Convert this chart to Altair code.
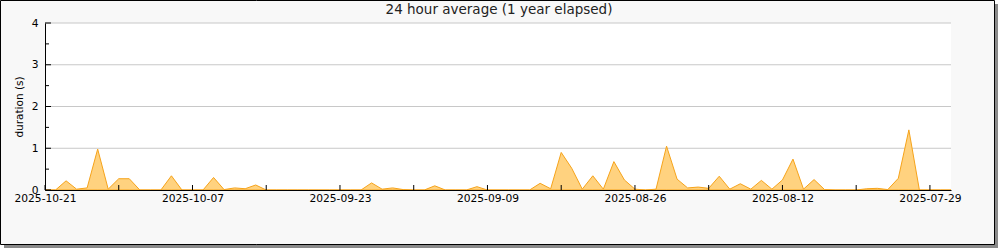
import altair as alt
import pandas as pd

TITLE = "24 hour average (1 year elapsed)"
Y_TITLE = "duration (s)"
START = "2025-10-21"  # leftmost day, days run backwards to the right

# daily averages (s), starting 2025-10-21 and going back one day per entry
values = [
    0.00, 0.00, 0.22, 0.02, 0.05, 0.98, 0.02, 0.27, 0.27, 0.00,
    0.00, 0.00, 0.34, 0.00, 0.00, 0.00, 0.30, 0.01, 0.05, 0.03,
    0.12, 0.00, 0.00, 0.00, 0.00, 0.00, 0.00, 0.00, 0.00, 0.00,
    0.00, 0.17, 0.02, 0.05, 0.01, 0.00, 0.00, 0.10, 0.00, 0.00,
    0.00, 0.08, 0.00, 0.00, 0.00, 0.00, 0.00, 0.16, 0.03, 0.90,
    0.52, 0.02, 0.34, 0.02, 0.68, 0.24, 0.02, 0.00, 0.02, 1.05,
    0.26, 0.05, 0.07, 0.04, 0.33, 0.02, 0.15, 0.02, 0.23, 0.02,
    0.24, 0.74, 0.02, 0.25, 0.01, 0.00, 0.00, 0.00, 0.03, 0.04,
    0.01, 0.28, 1.44, 0.00, 0.00, 0.00, 0.00,
]

major_ticks = ["2025-10-21", "2025-10-07", "2025-09-23", "2025-09-09",
               "2025-08-26", "2025-08-12", "2025-07-29"]
minor_ticks = ["2025-10-14", "2025-09-30", "2025-09-16", "2025-09-02",
               "2025-08-19", "2025-08-05"]
y_major = [0, 1, 2, 3, 4]
y_minor = [0.5, 1.5, 2.5, 3.5]
y_grid = [1, 2, 3, 4]

dates = pd.date_range(end=START, periods=len(values), freq="D")[::-1]
df = pd.DataFrame({"date": dates.strftime("%Y-%m-%d"), "value": values})
ticks_df = pd.DataFrame({"date": major_ticks + minor_ticks})
ymaj_df = pd.DataFrame({"value": y_major})
ymin_df = pd.DataFrame({"value": y_minor})
grid_df = pd.DataFrame({"value": y_grid})

W, H = 906, 167
FONT = "DejaVu Sans"

xscale = alt.Scale(
    type="utc",
    domain=[alt.DateTime(year=2025, month=7, date=27, utc=True),
            alt.DateTime(year=2025, month=10, date=21, utc=True)],
    reverse=True,
)
yscale = alt.Scale(domain=[0, 4], nice=False)

one = alt.Data(values=[{"a": 1}])

shadow = alt.Chart(one).mark_rect(fill="#8a8a8a").encode(
    x=alt.value(-41), x2=alt.value(953), y=alt.value(-19), y2=alt.value(225))
frame = alt.Chart(one).mark_rect(fill="#f8f8f8", stroke="black", strokeWidth=1).encode(
    x=alt.value(-44.5), x2=alt.value(949.5), y=alt.value(-22.5), y2=alt.value(221.5))
plotbg = alt.Chart(one).mark_rect(fill="white").encode(
    x=alt.value(0), x2=alt.value(W), y=alt.value(0), y2=alt.value(H))
title = alt.Chart(alt.Data(values=[{"t": TITLE}])).mark_text(
    font=FONT, fontSize=13.5, color="#222222", align="center", baseline="alphabetic"
).encode(text="t:N", x=alt.value(W / 2 + 1), y=alt.value(-9))

grid = alt.Chart(grid_df).mark_rule(color="#c8c8c8", strokeWidth=1).encode(
    y=alt.Y("value:Q", scale=yscale), x=alt.value(0), x2=alt.value(W))

area = alt.Chart(df).mark_area(
    fill="#ffd27f", stroke="#f6a31a", strokeWidth=1, interpolate="linear"
).encode(
    x=alt.X("date:T", scale=xscale,
            axis=alt.Axis(values=[alt.DateTime(year=int(d[:4]), month=int(d[5:7]), date=int(d[8:]), utc=True) for d in major_ticks],
                          labelExpr="utcFormat(datum.value, '%Y-%m-%d')",
                          title=None,
                          ticks=False, grid=False, domainColor="black",
                          labelColor="black", labelFont=FONT, labelFontSize=10.7,
                          labelPadding=3, zindex=1, labelFlush=False,
                          labelOverlap=False)),
    y=alt.Y("value:Q", scale=yscale,
            axis=alt.Axis(values=y_major, ticks=False, grid=False, domainColor="black",
                          labelColor="black", labelFont=FONT, labelFontSize=10.7,
                          labelPadding=7, zindex=1, title=Y_TITLE,
                          titleFont=FONT, titleFontSize=10.5, titleFontWeight="normal",
                          titleColor="black", titleX=-26, titleY=H / 2,
                          titleAngle=270, titleAlign="center", titleBaseline="middle")),
)

xticks = alt.Chart(ticks_df).mark_rule(color="black", strokeWidth=1).encode(
    x=alt.X("date:T", scale=xscale), y=alt.value(H - 5), y2=alt.value(H))
ymaj = alt.Chart(ymaj_df).mark_rule(color="black", strokeWidth=1).encode(
    y=alt.Y("value:Q", scale=yscale), x=alt.value(0), x2=alt.value(6))
ymin = alt.Chart(ymin_df).mark_rule(color="black", strokeWidth=1).encode(
    y=alt.Y("value:Q", scale=yscale), x=alt.value(0), x2=alt.value(4))

chart = alt.layer(shadow, frame, plotbg, title, grid, area, xticks, ymaj, ymin).properties(
    width=W, height=H,
    autosize=alt.AutoSizeParams(type="none"),
    padding={"left": 45, "top": 23, "right": 49, "bottom": 60},
    background="white",
).configure_view(stroke=None, fill=None)

chart.save("out.html", embed_options={"renderer": "svg", "actions": False})
